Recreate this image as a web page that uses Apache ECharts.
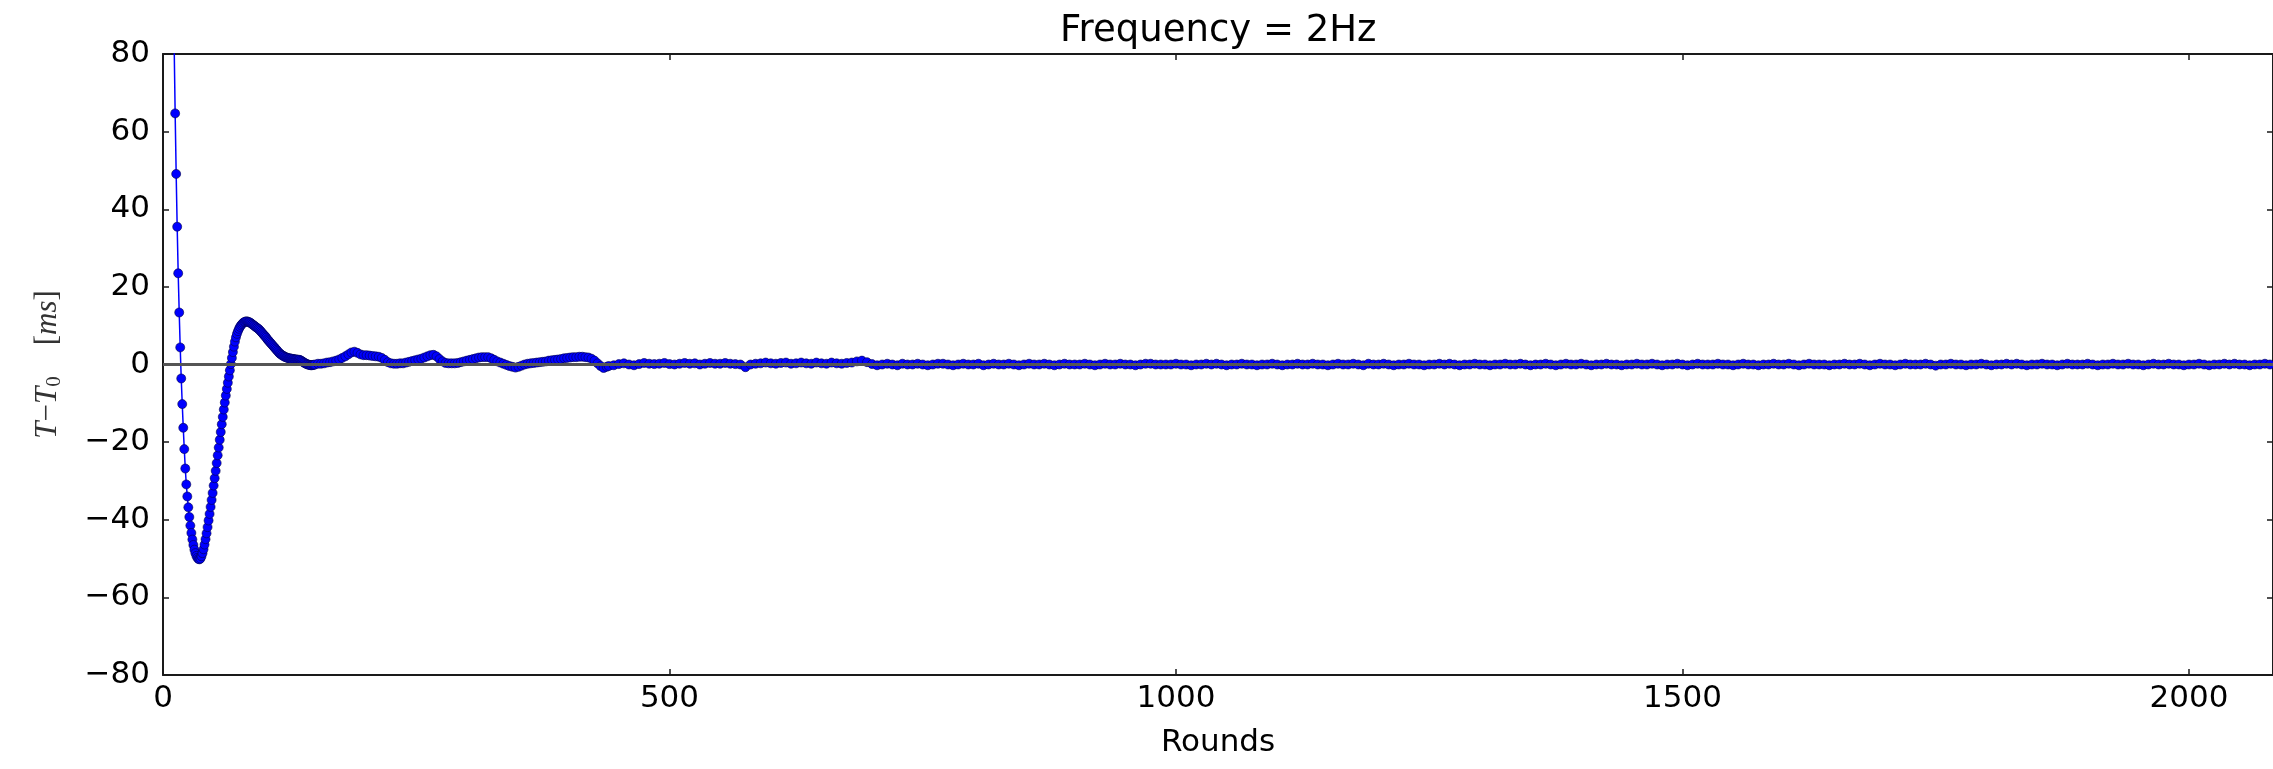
<!DOCTYPE html>
<html>
<head>
<meta charset="utf-8">
<script src="https://cdn.jsdelivr.net/npm/echarts/dist/echarts.min.js"></script>
<style>
  html, body { margin: 0; padding: 0; background: #fff; }
  #chart { width: 2273px; height: 769px; }
</style>
</head>
<body>
<div id="chart"></div>
<script>
// round axis: 0 .. right spine
var round_max = 2083
var x_ticks = 500
var y_ticks = 20

// rounds 10..150, one sample per round
var start_a = 10, step_a = 1
var values_a = [
  102, 82.5, 64.7, 49.1, 35.5, 23.5, 13.4, 4.4, -3.6, -10.2,
  -16.3, -21.8, -26.8, -30.9, -34.0, -36.8, -39.3, -41.5, -43.4, -45.1,
  -46.5, -47.7, -48.6, -49.3, -49.8, -50.1, -50.2, -50.0, -49.4, -48.6,
  -47.6, -46.4, -45.0, -43.5, -41.9, -40.2, -38.5, -36.7, -34.9, -33.1,
  -31.2, -29.3, -27.4, -25.4, -23.4, -21.4, -19.4, -17.4, -15.4, -13.5,
  -11.6, -9.8, -8.0, -6.3, -4.7, -3.1, -1.5, 0.1, 1.7, 3.2,
  4.6, 5.9, 7.0, 7.9, 8.6, 9.2, 9.7, 10.1, 10.4, 10.7,
  10.9, 11.0, 11.1, 11.1, 11.0, 10.9, 10.8, 10.6, 10.4, 10.2,
  10.0, 9.8, 9.6, 9.4, 9.2, 9.0, 8.7, 8.4, 8.1, 7.8,
  7.5, 7.2, 6.9, 6.5, 6.2, 5.9, 5.6, 5.3, 5.0, 4.7,
  4.4, 4.1, 3.8, 3.5, 3.2, 2.9, 2.7, 2.5, 2.3, 2.2,
  2.0, 1.9, 1.8, 1.7, 1.6, 1.6, 1.5, 1.5, 1.4, 1.4,
  1.3, 1.3, 1.3, 1.2, 1.2, 1.2, 1.0, 0.9, 0.7, 0.5,
  0.4, 0.2, 0.1, 0.0, -0.1, -0.1, -0.2, -0.2, -0.1, -0.1,
  0.0
]

// rounds 153..438, read every 3 rounds
var start_b = 153, step_b = 3
var values_b = [
  0.2, 0.2, 0.3, 0.5, 0.6, 0.8, 1.0, 1.3, 1.7, 2.1,
  2.6, 3.1, 3.3, 3.0, 2.6, 2.4, 2.4, 2.3, 2.2, 2.1,
  2.0, 1.7, 1.2, 0.6, 0.3, 0.2, 0.2, 0.3, 0.3, 0.5,
  0.7, 0.9, 1.1, 1.3, 1.5, 1.8, 2.1, 2.4, 2.5, 2.1,
  1.4, 0.8, 0.4, 0.3, 0.3, 0.3, 0.4, 0.6, 0.8, 1.0,
  1.2, 1.4, 1.6, 1.8, 1.9, 1.9, 1.9, 1.6, 1.2, 0.8,
  0.5, 0.2, -0.1, -0.4, -0.6, -0.8, -0.6, -0.3, 0.0, 0.2,
  0.3, 0.4, 0.5, 0.6, 0.7, 0.8, 1.0, 1.1, 1.2, 1.3,
  1.4, 1.6, 1.7, 1.8, 1.9, 1.9, 2.0, 2.0, 1.9, 1.8,
  1.5, 1.0, 0.3, -0.4, -0.9, -0.6
]

// rounds 440..2085, read every 5 rounds
var start_c = 440, step_c = 5
var values_c = [
  -0.4, -0.2, 0.1, 0.3, 0.0, -0.2, 0.1, 0.4, 0.2, 0.1,
  0.2, 0.4, 0.1, 0.0, 0.2, 0.4, 0.2, 0.3, 0.0, 0.2,
  0.4, 0.2, 0.2, 0.4, 0.2, 0.1, 0.0, -0.7, 0.0, 0.2,
  0.3, 0.5, 0.3, 0.2, 0.4, 0.5, 0.2, 0.3, 0.5, 0.3,
  0.2, 0.5, 0.3, 0.2, 0.5, 0.3, 0.2, 0.4, 0.5, 0.8,
  1.0, 0.6, 0.1, -0.2, 0.0, 0.2, 0.0, -0.2, 0.2, 0.0,
  0.0, 0.2, 0.0, -0.2, 0.0, 0.2, 0.2, 0.0, -0.2, 0.0,
  0.2, 0.0, 0.0, 0.2, -0.2, 0.0, 0.2, 0.0, 0.0, 0.2,
  0.0, -0.2, 0.0, 0.2, 0.0, 0.0, 0.2, 0.0, -0.2, 0.0,
  0.2, 0.0, 0.0, 0.0, 0.2, 0.0, -0.2, 0.0, 0.2, 0.0,
  0.0, 0.2, 0.0, 0.0, -0.2, 0.0, 0.2, 0.2, 0.0, 0.0,
  0.0, 0.0, 0.2, 0.0, 0.0, -0.2, 0.0, 0.0, 0.2, 0.0,
  0.2, 0.0, -0.2, 0.0, 0.0, 0.2, 0.0, 0.0, -0.2, 0.0,
  0.0, 0.2, 0.0, -0.2, 0.0, 0.0, 0.2, 0.0, 0.0, 0.2,
  0.0, 0.0, -0.2, 0.0, 0.2, 0.0, 0.0, 0.2, 0.0, -0.2,
  0.2, 0.0, 0.0, 0.2, 0.0, -0.2, 0.0, 0.0, 0.2, 0.0,
  0.0, -0.2, 0.0, 0.0, 0.2, 0.0, 0.2, 0.0, -0.2, 0.0,
  0.0, 0.2, 0.0, 0.0, -0.2, 0.0, 0.0, 0.2, 0.0, 0.0,
  0.2, 0.0, -0.2, 0.0, 0.0, 0.2, 0.0, -0.2, 0.0, 0.2,
  0.0, 0.0, 0.2, 0.0, -0.2, 0.0, 0.0, 0.2, 0.0, 0.0,
  -0.2, 0.0, 0.0, 0.2, 0.0, 0.0, 0.2, 0.0, -0.2, 0.0,
  0.0, 0.2, 0.0, -0.2, 0.0, 0.2, 0.0, 0.0, 0.0, 0.2,
  0.0, 0.0, -0.2, 0.0, 0.2, 0.0, 0.0, -0.2, 0.0, 0.0,
  0.2, 0.0, 0.0, 0.2, 0.0, -0.2, 0.0, 0.2, 0.0, 0.0,
  0.0, -0.2, 0.0, 0.0, 0.2, 0.0, 0.0, 0.2, 0.0, -0.2,
  0.0, 0.2, 0.0, 0.0, -0.2, 0.0, 0.2, 0.0, 0.0, 0.0,
  0.2, 0.0, -0.3, 0.0, 0.0, 0.2, 0.0, 0.0, -0.2, 0.0,
  0.0, 0.2, 0.0, -0.2, 0.0, 0.0, 0.2, 0.0, 0.2, 0.0,
  -0.2, 0.0, 0.0, 0.2, 0.0, 0.0, -0.2, 0.0, 0.2, 0.0,
  0.0, 0.0, 0.2, 0.0, -0.2, 0.0, 0.0, 0.2, 0.0, 0.0,
  0.2, 0.0, 0.0, -0.2, 0.0, 0.2, 0.0, 0.0, 0.2, 0.0,
  0.0, -0.2, 0.0, 0.0, 0.2, 0.0, -0.2, 0.0, 0.0, 0.2,
  0.0, 0.2, 0.0, 0.0, -0.2, 0.0, 0.0, 0.2, 0.0, 0.0
]

function build_points(start, step, values){
  var pts = Array()
  values.forEach(function(v, i){
    pts.push([start + i * step, v])
  })
  return pts
}

// plain integers with a real minus sign, like the original
function tick_text(v){
  return String(v).replace('-', '\u2212')
}

function render_rounds(chart_id){
  var chart_div = echarts.init(document.getElementById(chart_id))
  var points = build_points(start_a, step_a, values_a)
    .concat(build_points(start_b, step_b, values_b))
    .concat(build_points(start_c, step_c, values_c))

  var frame = {color: '#1a1a1a', width: 2}
  var tick = {inside: true, length: 6, lineStyle: {color: '#1a1a1a', width: 1.5}}
  var label_font = {fontFamily: 'DejaVu Sans', fontSize: 31, color: '#000'}

  option = {
    animation: false,
    backgroundColor: '#fff',
    title: {
      text: 'Frequency = 2Hz',
      left: 1055,
      top: 8,
      textStyle: {fontFamily: 'DejaVu Sans', fontSize: 37, fontWeight: 'normal', color: '#000'}
    },
    grid: {left: 163, top: 54, width: 2112, height: 621},
    xAxis: [
      {
        type: 'value', position: 'bottom',
        min: 0, max: round_max, interval: x_ticks,
        name: 'Rounds', nameLocation: 'middle', nameGap: 52,
        nameTextStyle: label_font,
        axisLine: {onZero: false, lineStyle: frame},
        axisTick: tick,
        axisLabel: Object.assign({margin: 8, showMaxLabel: false, formatter: tick_text}, label_font),
        splitLine: {show: false}
      },
      {
        type: 'value', position: 'top',
        min: 0, max: round_max, interval: x_ticks,
        axisLine: {onZero: false, lineStyle: frame},
        axisTick: tick,
        axisLabel: {show: false},
        splitLine: {show: false}
      }
    ],
    yAxis: [
      {
        type: 'value', position: 'left',
        min: -80, max: 80, interval: y_ticks,
        name: '{i|T}{n|\u2212}{i|T}{s|0}{n|\u2002\u2002[}{i|ms}{n|]}',
        nameLocation: 'middle', nameGap: 98, nameRotate: 90,
        nameTextStyle: {
          color: '#333',
          rich: {
            i: {fontFamily: 'Liberation Serif', fontStyle: 'italic', fontSize: 31, color: '#333'},
            n: {fontFamily: 'Liberation Serif', fontSize: 31, color: '#333'},
            s: {fontFamily: 'Liberation Serif', fontSize: 21, color: '#333', padding: [14, 0, 0, 0]}
          }
        },
        axisLine: {onZero: false, lineStyle: frame},
        axisTick: tick,
        axisLabel: Object.assign({margin: 13, formatter: tick_text}, label_font),
        splitLine: {show: false}
      },
      {
        type: 'value', position: 'right',
        min: -80, max: 80, interval: y_ticks,
        axisLine: {onZero: false, lineStyle: frame},
        axisTick: tick,
        axisLabel: {show: false},
        splitLine: {show: false}
      }
    ],
    series: [
      {
        name: 'zero',
        type: 'line',
        data: [],
        z: 1,
        markLine: {
          silent: true,
          symbol: 'none',
          label: {show: false},
          lineStyle: {color: '#555', width: 3, type: 'solid'},
          data: [{yAxis: 0}]
        }
      },
      {
        name: 'T-T0',
        type: 'line',
        z: 2,
        data: points,
        showAllSymbol: true,
        symbol: 'circle',
        symbolSize: 9,
        itemStyle: {color: '#0000ff', borderColor: 'rgba(0,0,70,0.85)', borderWidth: 0.7},
        lineStyle: {color: '#0000ff', width: 1.5}
      }
    ]
  }
  chart_div.setOption(option)
}

render_rounds('chart')
</script>
</body>
</html>
